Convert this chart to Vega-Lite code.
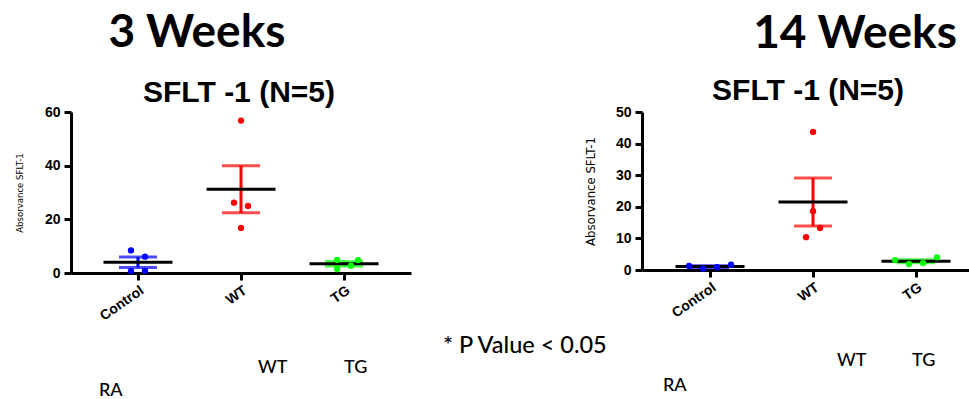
{
  "$schema": "https://vega.github.io/schema/vega-lite/v6.json",
  "padding": {"left": 14, "top": 10, "right": 0, "bottom": 0},
  "background": "white",
  "spacing": 231,
  "bounds": "flush",
  "datasets": {
    "w3": [
      {"group": "Control", "value": 8.4, "slot": -1},
      {"group": "Control", "value": 6.1, "slot": 1},
      {"group": "Control", "value": 0.7, "slot": -1},
      {"group": "Control", "value": 0.8, "slot": 1},
      {"group": "WT", "value": 56.8, "slot": 0},
      {"group": "WT", "value": 26.2, "slot": -1},
      {"group": "WT", "value": 25.0, "slot": 1},
      {"group": "WT", "value": 16.8, "slot": 0},
      {"group": "TG", "value": 4.9, "slot": -1},
      {"group": "TG", "value": 4.8, "slot": 2},
      {"group": "TG", "value": 1.5, "slot": -1},
      {"group": "TG", "value": 2.7, "slot": 1}
    ],
    "w14": [
      {"group": "Control", "value": 1.3, "slot": -3},
      {"group": "Control", "value": 0.4, "slot": -1},
      {"group": "Control", "value": 0.9, "slot": 1},
      {"group": "Control", "value": 1.7, "slot": 3},
      {"group": "WT", "value": 43.7, "slot": 0},
      {"group": "WT", "value": 18.6, "slot": 0},
      {"group": "WT", "value": 13.3, "slot": 1},
      {"group": "WT", "value": 10.4, "slot": -1},
      {"group": "TG", "value": 3.1, "slot": -3},
      {"group": "TG", "value": 1.9, "slot": -1},
      {"group": "TG", "value": 2.2, "slot": 1},
      {"group": "TG", "value": 4.0, "slot": 3}
    ]
  },
  "hconcat": [
    {
      "width": 340,
      "height": 161,
      "data": {"name": "w3"},
      "layer": [
        {
          "mark": {"type": "errorbar", "extent": "stderr", "ticks": {"size": 38, "thickness": 3}, "rule": {"strokeWidth": 3}},
          "encoding": {
            "x": {"field": "group", "type": "nominal", "scale": {"type": "point", "domain": ["Control", "WT", "TG"], "padding": 0.65, "align": 0.5}, "axis": {"labelAngle": -35, "labelPadding": 3, "title": null}},
            "y": {"field": "value", "type": "quantitative", "scale": {"domain": [0, 60]}, "axis": {"values": [0, 20, 40, 60], "title": "Absorvance SFLT-1", "titleFontSize": 9.5, "titlePadding": 20}},
            "color": {"field": "group", "type": "nominal", "scale": {"domain": ["Control", "WT", "TG"], "range": ["#0000ff", "#ff0000", "#00ff00"]}, "legend": null}
          }
        },
        {
          "mark": {"type": "tick", "size": 69, "thickness": 3, "color": "black"},
          "encoding": {
            "x": {"field": "group", "type": "nominal", "axis": {"labelAngle": -35, "labelPadding": 3, "title": null}},
            "y": {"aggregate": "mean", "field": "value", "type": "quantitative", "axis": {"values": [0, 20, 40, 60], "title": "Absorvance SFLT-1", "titleFontSize": 9.5, "titlePadding": 20}}
          }
        },
        {
          "mark": {"type": "circle", "size": 40, "opacity": 1},
          "encoding": {
            "x": {"field": "group", "type": "nominal", "axis": {"labelAngle": -35, "labelPadding": 3, "title": null}},
            "xOffset": {"field": "slot", "type": "quantitative", "scale": {"domain": [-3, 3], "range": [-21, 21]}},
            "y": {"field": "value", "type": "quantitative", "axis": {"values": [0, 20, 40, 60], "title": "Absorvance SFLT-1", "titleFontSize": 9.5, "titlePadding": 20}},
            "color": {"field": "group", "type": "nominal", "legend": null}
          }
        },
        {
          "data": {"values": [{"note": "3 Weeks"}]},
          "mark": {"type": "text", "font": "Lato", "fontSize": 46, "fontWeight": "bold", "align": "center", "baseline": "alphabetic", "dx": 59, "dy": -65, "color": "black"},
          "encoding": {"x": {"datum": "Control", "type": "nominal", "axis": {"labelAngle": -35, "labelPadding": 3, "title": null}}, "y": {"datum": 60, "type": "quantitative", "axis": {"values": [0, 20, 40, 60], "title": "Absorvance SFLT-1", "titleFontSize": 9.5, "titlePadding": 20}}, "text": {"field": "note"}}
        },
        {
          "data": {"values": [{"note": "SFLT -1 (N=5)"}]},
          "mark": {"type": "text", "font": "Liberation Sans", "fontSize": 30, "fontWeight": "bold", "align": "center", "baseline": "alphabetic", "dx": -2, "dy": -10, "color": "black"},
          "encoding": {"x": {"datum": "WT", "type": "nominal", "axis": {"labelAngle": -35, "labelPadding": 3, "title": null}}, "y": {"datum": 60, "type": "quantitative", "axis": {"values": [0, 20, 40, 60], "title": "Absorvance SFLT-1", "titleFontSize": 9.5, "titlePadding": 20}}, "text": {"field": "note"}}
        },
        {
          "data": {"values": [{"note": "* P Value < 0.05"}]},
          "mark": {"type": "text", "font": "Lato", "fontSize": 23.5, "fontWeight": 500, "align": "left", "baseline": "alphabetic", "dx": 99, "dy": 80, "color": "black"},
          "encoding": {"x": {"datum": "TG", "type": "nominal", "axis": {"labelAngle": -35, "labelPadding": 3, "title": null}}, "y": {"datum": 0, "type": "quantitative", "axis": {"values": [0, 20, 40, 60], "title": "Absorvance SFLT-1", "titleFontSize": 9.5, "titlePadding": 20}}, "text": {"field": "note"}}
        },
        {
          "data": {"values": [{"note": "WT"}]},
          "mark": {"type": "text", "font": "Lato", "fontSize": 18, "fontWeight": 500, "align": "left", "baseline": "alphabetic", "dx": 17, "dy": 100, "color": "black"},
          "encoding": {"x": {"datum": "WT", "type": "nominal", "axis": {"labelAngle": -35, "labelPadding": 3, "title": null}}, "y": {"datum": 0, "type": "quantitative", "axis": {"values": [0, 20, 40, 60], "title": "Absorvance SFLT-1", "titleFontSize": 9.5, "titlePadding": 20}}, "text": {"field": "note"}}
        },
        {
          "data": {"values": [{"note": "TG"}]},
          "mark": {"type": "text", "font": "Lato", "fontSize": 18, "fontWeight": 500, "align": "left", "baseline": "alphabetic", "dx": 0, "dy": 100, "color": "black"},
          "encoding": {"x": {"datum": "TG", "type": "nominal", "axis": {"labelAngle": -35, "labelPadding": 3, "title": null}}, "y": {"datum": 0, "type": "quantitative", "axis": {"values": [0, 20, 40, 60], "title": "Absorvance SFLT-1", "titleFontSize": 9.5, "titlePadding": 20}}, "text": {"field": "note"}}
        },
        {
          "data": {"values": [{"note": "RA"}]},
          "mark": {"type": "text", "font": "Lato", "fontSize": 18, "fontWeight": 500, "align": "left", "baseline": "alphabetic", "dx": -39, "dy": 123, "color": "black"},
          "encoding": {"x": {"datum": "Control", "type": "nominal", "axis": {"labelAngle": -35, "labelPadding": 3, "title": null}}, "y": {"datum": 0, "type": "quantitative", "axis": {"values": [0, 20, 40, 60], "title": "Absorvance SFLT-1", "titleFontSize": 9.5, "titlePadding": 20}}, "text": {"field": "note"}}
        }
      ]
    },
    {
      "width": 329,
      "height": 158,
      "data": {"name": "w14"},
      "layer": [
        {
          "mark": {"type": "errorbar", "extent": "stderr", "ticks": {"size": 38, "thickness": 3}, "rule": {"strokeWidth": 3}},
          "encoding": {
            "x": {"field": "group", "type": "nominal", "scale": {"type": "point", "domain": ["Control", "WT", "TG"], "padding": 0.597, "align": 0.553}, "axis": {"labelAngle": -35, "labelPadding": 3, "title": null}},
            "y": {"field": "value", "type": "quantitative", "scale": {"domain": [0, 50]}, "axis": {"values": [0, 10, 20, 30, 40, 50], "title": "Absorvance SFLT-1", "titleFontSize": 13, "titlePadding": 18}},
            "color": {"field": "group", "type": "nominal", "scale": {"domain": ["Control", "WT", "TG"], "range": ["#0000ff", "#ff0000", "#00ff00"]}, "legend": null}
          }
        },
        {
          "mark": {"type": "tick", "size": 69, "thickness": 3, "color": "black"},
          "encoding": {
            "x": {"field": "group", "type": "nominal", "axis": {"labelAngle": -35, "labelPadding": 3, "title": null}},
            "y": {"aggregate": "mean", "field": "value", "type": "quantitative", "axis": {"values": [0, 10, 20, 30, 40, 50], "title": "Absorvance SFLT-1", "titleFontSize": 13, "titlePadding": 18}}
          }
        },
        {
          "mark": {"type": "circle", "size": 40, "opacity": 1},
          "encoding": {
            "x": {"field": "group", "type": "nominal", "axis": {"labelAngle": -35, "labelPadding": 3, "title": null}},
            "xOffset": {"field": "slot", "type": "quantitative", "scale": {"domain": [-3, 3], "range": [-21, 21]}},
            "y": {"field": "value", "type": "quantitative", "axis": {"values": [0, 10, 20, 30, 40, 50], "title": "Absorvance SFLT-1", "titleFontSize": 13, "titlePadding": 18}},
            "color": {"field": "group", "type": "nominal", "legend": null}
          }
        },
        {
          "data": {"values": [{"note": "14 Weeks"}]},
          "mark": {"type": "text", "font": "Lato", "fontSize": 46, "fontWeight": "bold", "align": "center", "baseline": "alphabetic", "dx": 42, "dy": -64, "color": "black"},
          "encoding": {"x": {"datum": "WT", "type": "nominal", "axis": {"labelAngle": -35, "labelPadding": 3, "title": null}}, "y": {"datum": 50, "type": "quantitative", "axis": {"values": [0, 10, 20, 30, 40, 50], "title": "Absorvance SFLT-1", "titleFontSize": 13, "titlePadding": 18}}, "text": {"field": "note"}}
        },
        {
          "data": {"values": [{"note": "SFLT -1 (N=5)"}]},
          "mark": {"type": "text", "font": "Liberation Sans", "fontSize": 30, "fontWeight": "bold", "align": "center", "baseline": "alphabetic", "dx": -5, "dy": -12, "color": "black"},
          "encoding": {"x": {"datum": "WT", "type": "nominal", "axis": {"labelAngle": -35, "labelPadding": 3, "title": null}}, "y": {"datum": 50, "type": "quantitative", "axis": {"values": [0, 10, 20, 30, 40, 50], "title": "Absorvance SFLT-1", "titleFontSize": 13, "titlePadding": 18}}, "text": {"field": "note"}}
        },
        {
          "data": {"values": [{"note": "WT"}]},
          "mark": {"type": "text", "font": "Lato", "fontSize": 18, "fontWeight": 500, "align": "left", "baseline": "alphabetic", "dx": 24, "dy": 96, "color": "black"},
          "encoding": {"x": {"datum": "WT", "type": "nominal", "axis": {"labelAngle": -35, "labelPadding": 3, "title": null}}, "y": {"datum": 0, "type": "quantitative", "axis": {"values": [0, 10, 20, 30, 40, 50], "title": "Absorvance SFLT-1", "titleFontSize": 13, "titlePadding": 18}}, "text": {"field": "note"}}
        },
        {
          "data": {"values": [{"note": "TG"}]},
          "mark": {"type": "text", "font": "Lato", "fontSize": 18, "fontWeight": 500, "align": "left", "baseline": "alphabetic", "dx": -4, "dy": 96, "color": "black"},
          "encoding": {"x": {"datum": "TG", "type": "nominal", "axis": {"labelAngle": -35, "labelPadding": 3, "title": null}}, "y": {"datum": 0, "type": "quantitative", "axis": {"values": [0, 10, 20, 30, 40, 50], "title": "Absorvance SFLT-1", "titleFontSize": 13, "titlePadding": 18}}, "text": {"field": "note"}}
        },
        {
          "data": {"values": [{"note": "RA"}]},
          "mark": {"type": "text", "font": "Lato", "fontSize": 18, "fontWeight": 500, "align": "left", "baseline": "alphabetic", "dx": -47, "dy": 121, "color": "black"},
          "encoding": {"x": {"datum": "Control", "type": "nominal", "axis": {"labelAngle": -35, "labelPadding": 3, "title": null}}, "y": {"datum": 0, "type": "quantitative", "axis": {"values": [0, 10, 20, 30, 40, 50], "title": "Absorvance SFLT-1", "titleFontSize": 13, "titlePadding": 18}}, "text": {"field": "note"}}
        }
      ]
    }
  ],
  "config": {
    "view": {"stroke": null},
    "axis": {
      "grid": false,
      "domainColor": "black",
      "domainWidth": 3,
      "tickColor": "black",
      "tickWidth": 3,
      "tickSize": 7,
      "labelFont": "Liberation Sans",
      "labelFontWeight": "bold",
      "labelFontSize": 14,
      "labelColor": "black",
      "labelPadding": 4,
      "titleFont": "Liberation Sans Narrow, DejaVu Sans Condensed, sans-serif",
      "titleFontWeight": "normal",
      "titleColor": "black",
      "titlePadding": 10
    }
  }
}
